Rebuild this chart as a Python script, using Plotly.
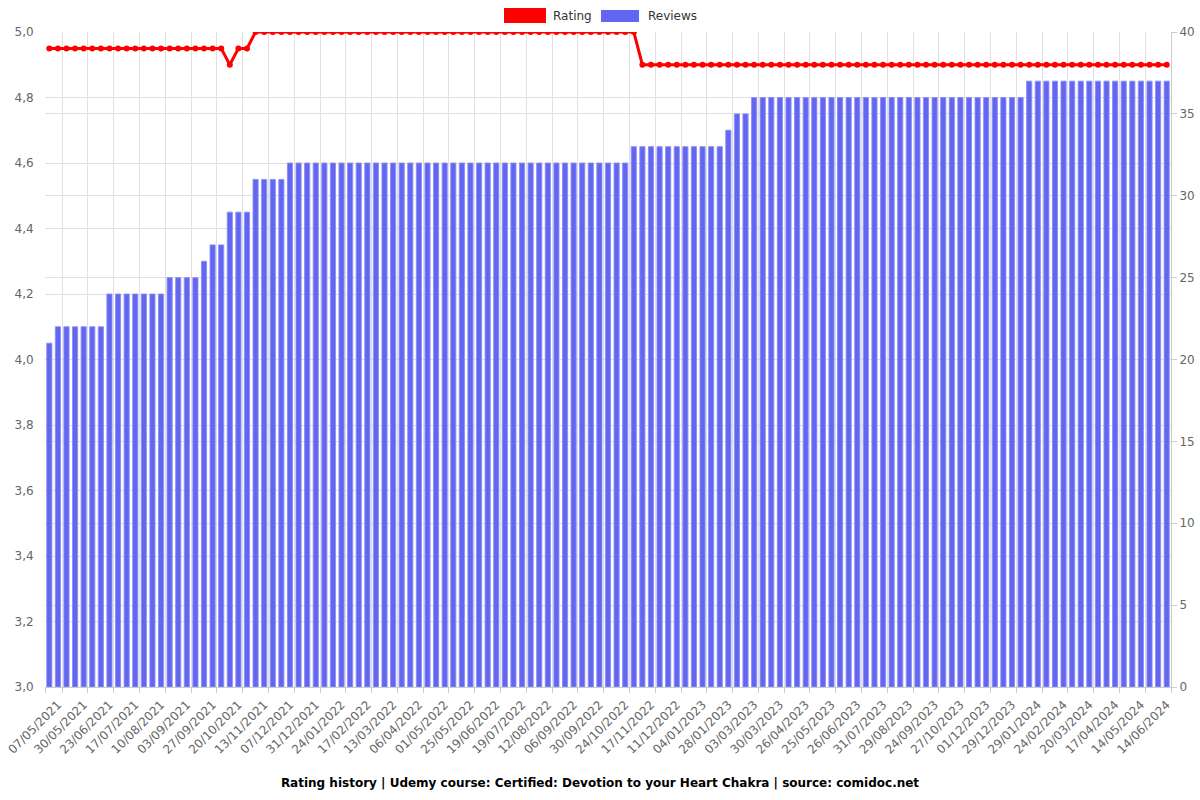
import plotly.graph_objects as go

# ---- data ----
tick_labels = [
    "07/05/2021", "30/05/2021", "23/06/2021", "17/07/2021", "10/08/2021", "03/09/2021",
    "27/09/2021", "20/10/2021", "13/11/2021", "07/12/2021", "31/12/2021", "24/01/2022",
    "17/02/2022", "13/03/2022", "06/04/2022", "01/05/2022", "25/05/2022", "19/06/2022",
    "19/07/2022", "12/08/2022", "06/09/2022", "30/09/2022", "24/10/2022", "17/11/2022",
    "11/12/2022", "04/01/2023", "28/01/2023", "03/03/2023", "30/03/2023", "26/04/2023",
    "25/05/2023", "26/06/2023", "31/07/2023", "29/08/2023", "24/09/2023", "27/10/2023",
    "01/12/2023", "29/12/2023", "29/01/2024", "24/02/2024", "20/03/2024", "17/04/2024",
    "14/05/2024", "14/06/2024",
]

reviews = [
    21,
    22, 22, 22, 22, 22, 22,
    24, 24, 24, 24, 24, 24, 24,
    25, 25, 25, 25,
    26,
    27, 27,
    29, 29, 29,
    31, 31, 31, 31,
    32, 32, 32, 32, 32, 32, 32, 32, 32, 32, 32, 32, 32, 32, 32, 32, 32, 32, 32, 32,
    32, 32, 32, 32, 32, 32, 32, 32, 32, 32, 32, 32, 32, 32, 32, 32, 32, 32, 32, 32,
    33, 33, 33, 33, 33, 33, 33, 33, 33, 33, 33,
    34,
    35, 35,
    36, 36, 36, 36, 36, 36, 36, 36, 36, 36, 36, 36, 36, 36, 36, 36,
    36, 36, 36, 36, 36, 36, 36, 36, 36, 36, 36, 36, 36, 36, 36, 36,
    37, 37, 37, 37, 37, 37, 37, 37, 37, 37, 37, 37, 37, 37, 37, 37, 37,
]

rating = [
    4.95, 4.95, 4.95, 4.95, 4.95, 4.95, 4.95, 4.95, 4.95, 4.95, 4.95,
    4.95, 4.95, 4.95, 4.95, 4.95, 4.95, 4.95, 4.95, 4.95, 4.95,
    4.9,
    4.95, 4.95,
    5.0, 5.0, 5.0, 5.0, 5.0, 5.0, 5.0, 5.0, 5.0, 5.0, 5.0, 5.0, 5.0, 5.0, 5.0,
    5.0, 5.0, 5.0, 5.0, 5.0, 5.0, 5.0, 5.0, 5.0, 5.0, 5.0, 5.0, 5.0, 5.0, 5.0,
    5.0, 5.0, 5.0, 5.0, 5.0, 5.0, 5.0, 5.0, 5.0, 5.0, 5.0, 5.0, 5.0, 5.0, 5.0,
    4.9, 4.9, 4.9, 4.9, 4.9, 4.9, 4.9, 4.9, 4.9, 4.9, 4.9, 4.9, 4.9, 4.9, 4.9, 4.9,
    4.9, 4.9, 4.9, 4.9, 4.9, 4.9, 4.9, 4.9, 4.9, 4.9, 4.9, 4.9, 4.9, 4.9, 4.9, 4.9,
    4.9, 4.9, 4.9, 4.9, 4.9, 4.9, 4.9, 4.9, 4.9, 4.9, 4.9, 4.9, 4.9, 4.9, 4.9, 4.9,
    4.9, 4.9, 4.9, 4.9, 4.9, 4.9, 4.9, 4.9, 4.9, 4.9, 4.9, 4.9, 4.9, 4.9,
]

title_text = "Rating history | Udemy course: Certified: Devotion to your Heart Chakra | source: comidoc.net"

# ---- styling ----
FONT = "DejaVu Sans"
GRID = "#e0e0e0"
AXIS = "#cccccc"
TXT = "#666666"
RED = "#ff0000"
BLUE = "#6366f1"

n = len(reviews)
x = list(range(n))
label_pos = list(range(1, n, 3))
boundary_pos = [-0.5] + [p + 0.5 for p in label_pos]

fig = go.Figure()
fig.add_trace(go.Bar(
    x=x, y=reviews, name="Reviews", xaxis="x", yaxis="y",
    width=0.6, marker=dict(color=BLUE, line=dict(color="rgba(140,143,245,0.9)", width=1)),
    showlegend=False,
))
fig.add_trace(go.Scatter(
    x=x, y=rating, name="Rating", xaxis="x2", yaxis="y2",
    mode="lines+markers",
    line=dict(color=RED, width=3),
    marker=dict(color=RED, size=6),
    showlegend=False,
))

L, R, T, B = 45, 29, 32, 113
W, H = 1200, 800
pw, ph = W - L - R, H - T - B


def px(xp):
    return (xp - L) / pw


def py(yp):
    return (H - B - yp) / ph


rng = [-0.5, n - 0.5]
fig.update_layout(
    width=W, height=H,
    margin=dict(l=L, r=R, t=T, b=B, pad=0, autoexpand=False),
    paper_bgcolor="white", plot_bgcolor="white",
    separators=",.",
    font=dict(family=FONT, size=12, color=TXT),
    bargap=0.4,
    title=dict(text="<b>" + title_text + "</b>", x=0.5, xanchor="center",
               y=1 - 783 / 800, yanchor="middle", yref="container",
               font=dict(family=FONT, size=12, color="#000000")),
    xaxis=dict(range=rng, tickmode="array", tickvals=label_pos, ticktext=tick_labels,
               tickangle=-45, showgrid=False, zeroline=False, automargin=False,
               ticks="outside", ticklen=5, tickcolor="rgba(0,0,0,0)",
               showline=True, linecolor=AXIS, linewidth=1,
               tickfont=dict(family=FONT, size=12, color=TXT)),
    xaxis2=dict(range=rng, overlaying="x", anchor="y", side="bottom", automargin=False,
                tickmode="array", tickvals=boundary_pos, showticklabels=False,
                ticks="outside", ticklen=5, tickcolor=AXIS,
                showgrid=True, gridcolor=GRID, gridwidth=1, zeroline=False, showline=False),
    yaxis=dict(range=[0, 40], dtick=5, side="right", showgrid=True, gridcolor=GRID,
               zeroline=False, showline=True, linecolor=AXIS, linewidth=1, automargin=False,
               ticks="outside", ticklen=5, tickcolor=AXIS,
               tickfont=dict(family=FONT, size=12, color=TXT)),
    yaxis2=dict(range=[3, 5], dtick=0.2, tickformat=".1f", side="left", overlaying="y",
                anchor="x", showgrid=True, gridcolor=GRID, zeroline=False, showline=False,
                automargin=False,
                ticks="outside", ticklen=8, tickcolor="rgba(0,0,0,0)",
                tickfont=dict(family=FONT, size=12, color=TXT)),
    showlegend=False,
)

# manual legend (rectangular keys like the reference)
fig.add_shape(type="rect", xref="paper", yref="paper",
              x0=px(504), x1=px(546), y0=py(23), y1=py(8),
              fillcolor=RED, line=dict(width=0))
fig.add_shape(type="rect", xref="paper", yref="paper",
              x0=px(601), x1=px(639), y0=py(22), y1=py(10),
              fillcolor=BLUE, line=dict(width=0))
fig.add_annotation(text="Rating", xref="paper", yref="paper", x=px(551), y=py(16),
                   xanchor="left", yanchor="middle", showarrow=False,
                   font=dict(family=FONT, size=12, color="#333333"))
fig.add_annotation(text="Reviews", xref="paper", yref="paper", x=px(646), y=py(16),
                   xanchor="left", yanchor="middle", showarrow=False,
                   font=dict(family=FONT, size=12, color="#333333"))

fig.write_html("out.html")
